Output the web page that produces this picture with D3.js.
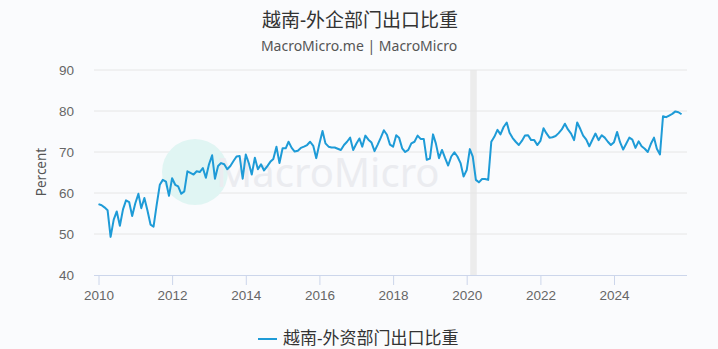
<!DOCTYPE html>
<html>
<head>
<meta charset="utf-8">
<script src="https://cdn.jsdelivr.net/npm/d3@7"></script>
<style>
  body { margin: 0; background: #fafbfd; }
  svg { display: block; font-family: "Noto Sans", "Noto Sans CJK SC", sans-serif; }
</style>
</head>
<body>
<div id="chart"></div>
<script>
const width = 718
const height = 349

// monthly values, 2010-01 .. 2025-11
const startYear = 2010
const values = [
  57.3, 57.0, 56.5, 55.8, 49.3, 53.5, 55.5, 52.0, 56.0, 58.2, 57.8, 54.4, // 2010
  57.5, 59.8, 56.3, 58.8, 55.8, 52.3, 51.8, 57.1, 62.0, 63.2, 62.8, 59.3, // 2011
  63.6, 62.0, 61.6, 59.8, 60.4, 65.3, 64.9, 64.5, 65.3, 65.1, 66.1, 63.7, // 2012
  67.0, 69.2, 63.5, 66.6, 67.3, 67.0, 65.8, 66.6, 67.8, 68.9, 69.0, 63.5, // 2013
  69.4, 67.2, 64.5, 68.6, 65.8, 67.0, 65.5, 66.5, 67.6, 68.3, 71.3, 67.3, // 2014
  70.9, 70.9, 72.5, 71.0, 70.1, 70.3, 71.0, 71.3, 71.7, 72.5, 71.5, 68.5, // 2015
  72.0, 75.1, 72.1, 71.3, 71.1, 71.1, 70.8, 70.5, 71.7, 72.5, 73.5, 70.5, // 2016
  72.0, 73.3, 71.3, 74.0, 73.0, 72.3, 70.2, 71.8, 73.5, 75.3, 74.2, 71.8, // 2017
  71.3, 74.1, 73.5, 70.9, 70.0, 70.5, 72.1, 72.5, 74.0, 73.2, 73.2, 68.1, // 2018
  68.4, 74.3, 72.1, 68.5, 70.5, 68.5, 66.7, 68.9, 69.9, 68.9, 67.3, 64.0, // 2019
  65.6, 70.7, 68.9, 63.2, 62.6, 63.4, 63.4, 63.2, 72.5, 73.7, 75.4, 74.3, // 2020
  76.1, 77.2, 74.7, 73.4, 72.5, 71.7, 72.7, 74.0, 74.1, 72.9, 72.9, 71.7, // 2021
  72.7, 75.8, 74.6, 73.5, 73.6, 73.9, 74.6, 75.5, 76.9, 75.5, 74.5, 72.9, // 2022
  77.2, 75.6, 74.0, 73.0, 71.4, 73.0, 74.5, 72.9, 74.1, 73.5, 72.5, 71.7, // 2023
  72.4, 74.9, 72.4, 70.6, 72.0, 73.5, 73.0, 71.0, 72.6, 71.4, 70.8, 70.0, // 2024
  72.0, 73.5, 70.8, 69.4, 78.7, 78.5, 78.9, 79.3, 79.9, 79.7, 79.2        // 2025
]
const yTicks = [40, 50, 60, 70, 80, 90]
const xTicks = [2010, 2012, 2014, 2016, 2018, 2020, 2022, 2024]
const shade = [new Date(2020, 1, 5), new Date(2020, 3, 10)]

const titleText = "越南-外企部门出口比重"
const subtitleText = "MacroMicro.me | MacroMicro"
const seriesName = "越南-外资部门出口比重"

const data = values.map((v, i) => ({ date: new Date(startYear, i, 1), value: v }))

const svg = d3.select("#chart").append("svg")
    .attr("width", width)
    .attr("height", height)
    .style("background-color", "#fafbfd")

const x = d3.scaleTime()
    .domain([new Date(2010, 0, 1), new Date(2024, 0, 1)])
    .range([98.5, 614])
const y = d3.scaleLinear()
    .domain([40, 90])
    .range([275, 70])

const left = 94, right = 687

// title
svg.append("text")
    .attr("x", 360).attr("y", 27)
    .attr("text-anchor", "middle")
    .attr("font-size", 19)
    .attr("fill", "#333")
    .text(titleText)
svg.append("text")
    .attr("x", 359).attr("y", 51)
    .attr("text-anchor", "middle")
    .attr("font-size", 14)
    .attr("fill", "#555")
    .text(subtitleText)

// shaded period
svg.append("rect")
    .attr("x", x(shade[0]))
    .attr("y", y(90))
    .attr("width", x(shade[1]) - x(shade[0]))
    .attr("height", y(40) - y(90))
    .attr("fill", "#ececec")

// grid
svg.append("g")
    .selectAll("line")
    .data(yTicks.slice(1))
    .join("line")
    .attr("x1", left).attr("x2", right)
    .attr("y1", d => y(d)).attr("y2", d => y(d))
    .attr("stroke", "#e6e6e6")
    .attr("stroke-width", 1)

// watermark
const wm = svg.append("g")
wm.append("circle")
    .attr("cx", 195).attr("cy", 172).attr("r", 33)
    .attr("fill", "#e0f5f3")
wm.append("text")
    .attr("x", 216).attr("y", 187)
    .attr("font-size", 40)
    .attr("fill", "#ebecf0")
    .text("MacroMicro")

// x axis
const xAxis = svg.append("g")
    .attr("transform", `translate(0,${y(40)})`)
    .call(d3.axisBottom(x)
        .tickValues(xTicks.map(d => new Date(d, 0, 1)))
        .tickFormat(d3.timeFormat("%Y"))
        .tickSize(10)
        .tickSizeOuter(0))
xAxis.select(".domain").attr("d", `M${left},0.5H${right}`).attr("stroke", "#ccd6eb")
xAxis.selectAll(".tick line").attr("stroke", "#ccd6eb")
xAxis.selectAll(".tick text")
    .attr("font-size", 13.5)
    .attr("fill", "#666")
    .attr("dy", "0.3em")
    .attr("y", 21)

// y axis
const yAxis = svg.append("g")
    .attr("transform", `translate(${left},0)`)
    .call(d3.axisLeft(y).tickValues(yTicks).tickSize(0))
yAxis.select(".domain").remove()
yAxis.selectAll(".tick text")
    .attr("x", -20)
    .attr("font-size", 13.5)
    .attr("fill", "#666")

svg.append("text")
    .attr("transform", "translate(46,172) rotate(-90)")
    .attr("text-anchor", "middle")
    .attr("font-size", 13.5)
    .attr("fill", "#555")
    .text("Percent")

// series
const line = d3.line()
    .x(d => x(d.date))
    .y(d => y(d.value))
svg.append("path")
    .datum(data)
    .attr("d", line)
    .attr("fill", "none")
    .attr("stroke", "#1e9bd7")
    .attr("stroke-width", 2)
    .attr("stroke-linejoin", "round")

// legend
const lg = svg.append("g").attr("transform", "translate(258,339)")
lg.append("line")
    .attr("x1", 0).attr("x2", 19)
    .attr("stroke", "#1e9bd7").attr("stroke-width", 2)
lg.append("text")
    .attr("x", 25).attr("y", 5)
    .attr("font-size", 17)
    .attr("fill", "#333")
    .text(seriesName)
</script>
</body>
</html>
